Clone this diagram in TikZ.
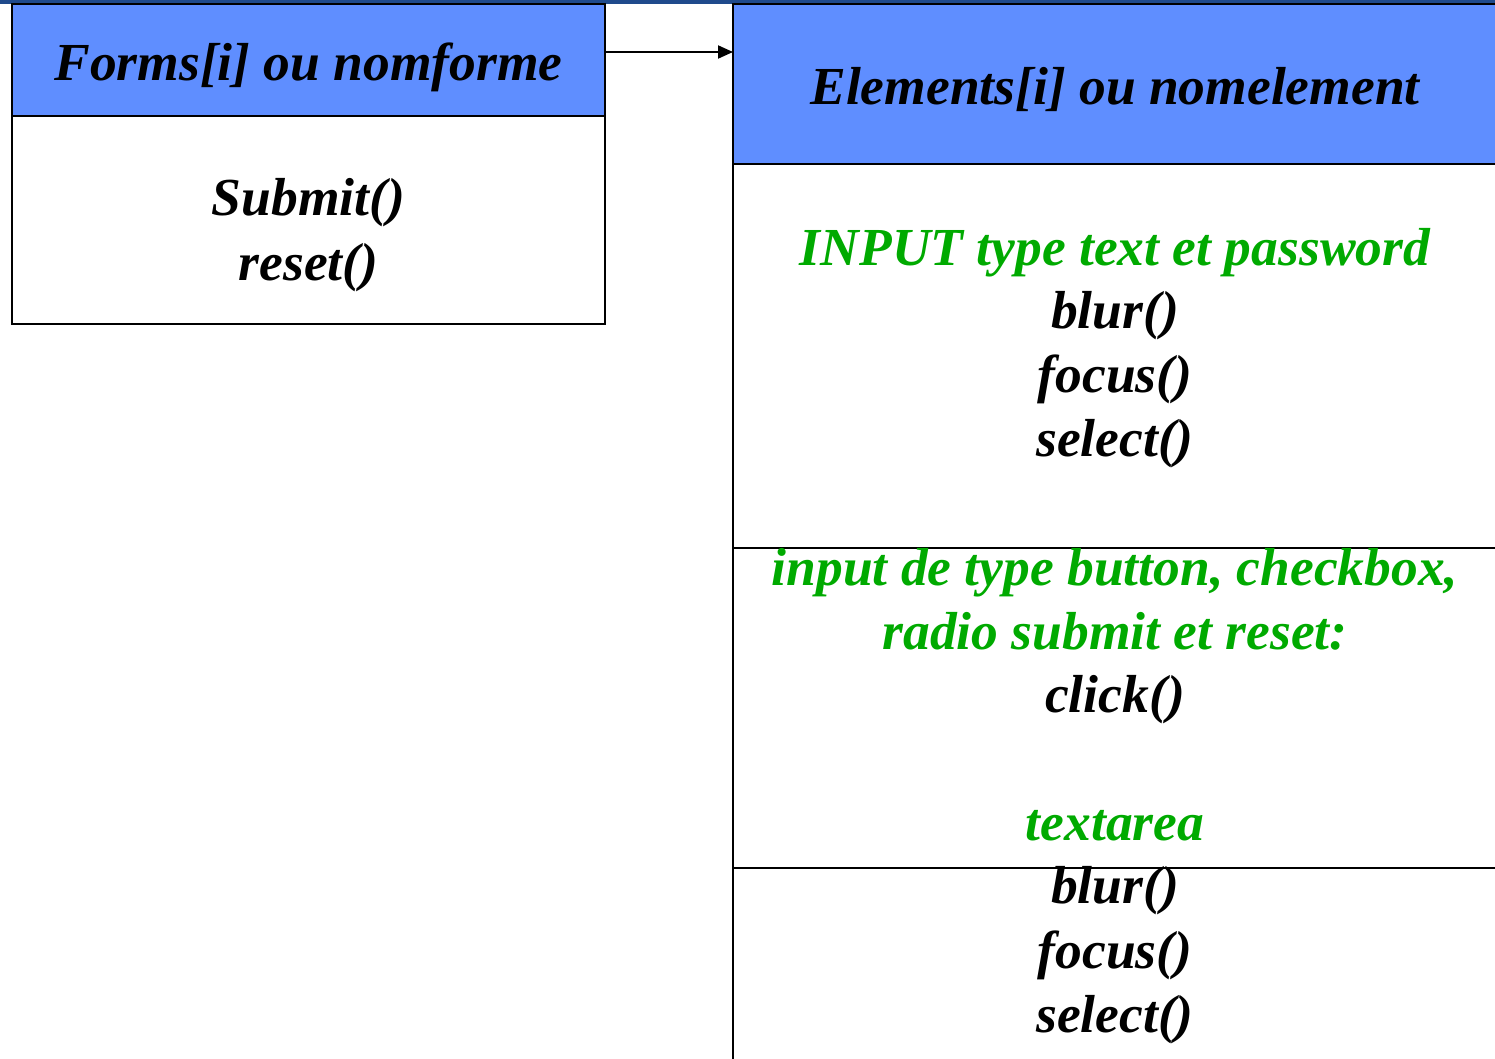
\documentclass[tikz,border=0pt]{standalone}
\usepackage{fontspec}
\setmainfont{Liberation Serif}
\usetikzlibrary{arrows.meta}
\definecolor{headblue}{HTML}{5F8EFF}
\definecolor{topbar}{HTML}{1F4A8C}
\definecolor{kwgreen}{HTML}{00AA00}
\tikzset{
  boxline/.style={draw=black, line width=2.2pt},
  head/.style={boxline, fill=headblue},
  lbl/.style={anchor=base, inner sep=0pt, font=\fontsize{53.5}{64}\selectfont\bfseries\itshape},
  kw/.style={lbl, text=kwgreen},
}
\begin{document}
\begin{tikzpicture}[x=1pt,y=-1pt]
  \useasboundingbox (0,0) rectangle (1495,1058);
  % strip along the top edge
  \fill[topbar] (0,0) rectangle (1495,4);

  % Form object box
  \path[head] (12,4) rectangle (605,116);
  \path[boxline] (12,116) rectangle (605,324);
  \node[lbl] (formtitle) at (308.5,80) {Forms[i] ou nomforme};
  \node[lbl] (submit) at (308.5,215) {Submit()};
  \node[lbl] (reset) at (308.5,280) {reset()};

  % Element object box (runs off the right and bottom edges)
  \path[head] (733,4) rectangle (1500,164);
  \draw[boxline] (733,164) -- (733,1062);
  \draw[boxline] (733,548) -- (1500,548);
  \draw[boxline] (733,868) -- (1500,868);
  \node[lbl] (elemtitle) at (1115,104) {Elements[i] ou nomelement};

  \node[kw]  (textinput) at (1115,265) {INPUT type text et password};
  \node[lbl] (blurA)   at (1115,328) {blur()};
  \node[lbl] (focusA)  at (1115,392) {focus()};
  \node[lbl] (selectA) at (1115,456) {select()};

  \node[kw]  (btninput) at (1115,585) {input de type button, checkbox,};
  \node[kw]  (btninputb) at (1115,649) {radio submit et reset:};
  \node[lbl] (click)   at (1115,712) {click()};

  \node[kw]  (textarea) at (1115,840) {textarea};
  \node[lbl] (blurB)   at (1115,903) {blur()};
  \node[lbl] (focusB)  at (1115,968) {focus()};
  \node[lbl] (selectB) at (1115,1032) {select()};

  % link from the form to its elements
  \coordinate (linkstart) at (605,52);
  \coordinate (linkend) at (733,52);
  \draw[line width=2pt, -{Triangle[length=15pt,width=13pt]}] (linkstart) -- (linkend);
\end{tikzpicture}
\end{document}
